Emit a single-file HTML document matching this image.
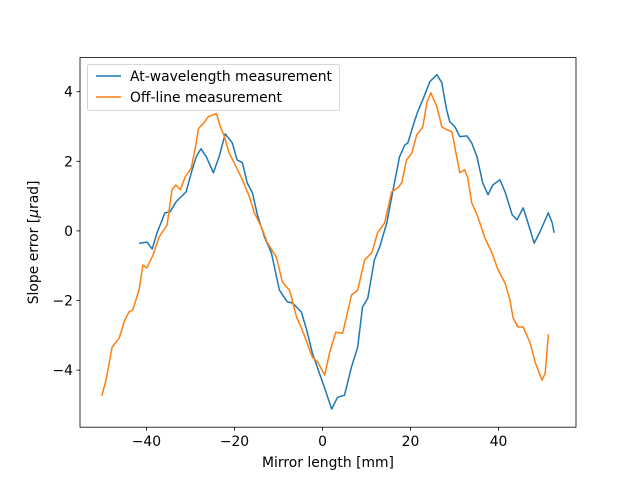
<!DOCTYPE html>
<html><head><meta charset="utf-8">
<style>
html,body{margin:0;padding:0;background:#fff;}
svg{display:block;font-family:"DejaVu Sans","Liberation Sans",sans-serif;}
</style></head>
<body>
<svg id="chart" width="640" height="480" xmlns="http://www.w3.org/2000/svg">
<rect width="640" height="480" fill="#fff"/>
<g id="plot"></g>
</svg>
<script>
const xTicks=[-40,-20,0,20,40];
const yTicks=[-4,-2,0,2,4];
const blueX=[-41.5,-39.9,-38.7,-37.6,-35.8,-34.6,-33.3,-31.0,-29.8,-28.7,-27.6,-26.4,-24.8,-23.5,-22.1,-20.5,-19.4,-18.2,-17.1,-15.9,-14.8,-13.2,-11.6,-9.8,-8.0,-6.8,-4.8,-3.6,-2.3,-0.7,0.5,2.1,3.4,5.0,6.6,8.0,9.1,10.3,11.8,13.0,14.6,15.9,17.5,18.7,19.4,20.5,21.6,22.8,24.4,26.0,27.1,28.2,28.9,30.1,31.2,32.8,33.9,35.1,36.4,37.6,38.7,40.3,41.5,43.1,44.2,45.6,46.7,48.1,49.4,51.3,52.2,52.6];
const blueY=[-0.35,-0.32,-0.52,-0.06,0.52,0.55,0.83,1.12,1.67,2.13,2.36,2.13,1.67,2.13,2.79,2.53,2.04,1.96,1.38,1.09,0.46,-0.17,-0.63,-1.70,-2.04,-2.07,-2.33,-2.85,-3.51,-4.09,-4.52,-5.12,-4.78,-4.72,-3.91,-3.34,-2.19,-1.93,-0.83,-0.46,0.23,1.09,2.13,2.47,2.53,2.99,3.42,3.77,4.29,4.49,4.26,3.48,3.14,2.99,2.71,2.73,2.53,2.13,1.38,1.04,1.32,1.47,1.12,0.46,0.32,0.66,0.23,-0.35,-0.03,0.52,0.23,-0.03];
const orangeX=[-50.1,-49.2,-47.8,-46.2,-45.1,-44.0,-43.1,-41.7,-40.8,-39.9,-38.5,-37.1,-35.3,-34.2,-33.3,-32.3,-31.2,-29.8,-28.7,-28.2,-26.9,-26.0,-24.1,-23.2,-22.3,-21.2,-19.6,-18.2,-16.6,-15.5,-13.9,-12.5,-10.5,-9.1,-7.5,-5.9,-4.6,-2.3,-1.1,0.5,1.6,3.0,4.6,6.6,8.0,9.6,11.2,12.5,14.1,15.7,17.1,18.0,19.1,20.3,21.4,22.8,23.7,24.6,26.0,27.1,28.2,29.4,30.5,31.2,32.3,33.0,33.9,35.3,36.9,38.5,39.9,41.5,42.6,43.3,44.4,45.6,47.2,48.3,49.9,50.6,51.3];
const orangeY=[-4.72,-4.29,-3.34,-3.08,-2.62,-2.33,-2.27,-1.70,-0.98,-1.06,-0.69,-0.17,0.17,1.18,1.32,1.18,1.55,1.81,2.53,2.94,3.11,3.28,3.37,2.99,2.71,2.24,1.84,1.47,0.98,0.52,0.12,-0.35,-0.75,-1.47,-1.70,-2.47,-2.85,-3.63,-3.77,-4.14,-3.51,-2.91,-2.94,-1.84,-1.70,-0.83,-0.63,-0.06,0.23,1.12,1.24,1.38,2.04,2.24,2.76,2.99,3.68,3.97,3.57,2.99,2.91,2.85,2.13,1.67,1.76,1.53,0.81,0.40,-0.20,-0.63,-1.12,-1.50,-1.99,-2.50,-2.76,-2.76,-3.22,-3.77,-4.29,-4.09,-2.99];

const L=80,R=576,T=57.6,B=427.2;
const xMin=-55.1,xMax=57.6,yMin=-5.64,yMax=4.98;
const FS='13.9px';
const sx=v=>L+(v-xMin)/(xMax-xMin)*(R-L);
const sy=v=>B-(v-yMin)/(yMax-yMin)*(B-T);
const NS="http://www.w3.org/2000/svg";
const g=document.getElementById('plot');
function mk(tag,attrs,parent){const e=document.createElementNS(NS,tag);for(const k in attrs)e.setAttribute(k,attrs[k]);(parent||g).appendChild(e);return e;}

function series(xs,ys,color,name){
  const p=mk('polyline',{points:xs.map((x,i)=>sx(x).toFixed(1)+','+sy(ys[i]).toFixed(1)).join(' '),fill:'none',stroke:color,'stroke-width':1.5,'stroke-linejoin':'round','stroke-linecap':'square'});
  
  
}
series(blueX,blueY,'#1f77b4','at-wavelength-line');
series(orangeX,orangeY,'#ff7f0e','off-line-line');

const frame=mk('rect',{x:L,y:T,width:R-L,height:B-T,fill:'none',stroke:'#000','stroke-width':0.8});



xTicks.forEach(v=>{
  const x=sx(v);
  mk('line',{x1:x,x2:x,y1:B,y2:B+3.5,stroke:'#000','stroke-width':0.8});
  const t=mk('text',{x:x,y:B+19,'text-anchor':'middle','font-size':FS,fill:'#000'});
  t.textContent=(v<0?'\u2212'+(-v):v);
  
  
});
yTicks.forEach(v=>{
  const y=sy(v);
  mk('line',{x1:L-3.5,x2:L,y1:y,y2:y,stroke:'#000','stroke-width':0.8});
  const t=mk('text',{x:L-7,y:y+5,'text-anchor':'end','font-size':FS,fill:'#000'});
  t.textContent=(v<0?'\u2212'+(-v):v);
  
  
});

const xl=mk('text',{x:(L+R)/2,y:467,'text-anchor':'middle','font-size':FS,fill:'#000'});
xl.textContent='Mirror length [mm]';



const yl=mk('text',{x:0,y:0,'text-anchor':'middle','font-size':FS,fill:'#000',transform:'translate(38,'+((T+B)/2)+') rotate(-90)'});
yl.innerHTML='Slope error [<tspan font-style="italic">μ</tspan>rad]';



const lg=mk('g',{});


mk('rect',{x:87.5,y:64.5,width:252,height:46,rx:2,fill:'#fff','fill-opacity':0.8,stroke:'#ccc','stroke-width':0.8},lg);
[['At-wavelength measurement','#1f77b4',76],['Off-line measurement','#ff7f0e',97]].forEach(([lab,c,y])=>{
  const e=mk('g',{},lg);
  
  
  mk('line',{x1:96,x2:121,y1:y,y2:y,stroke:c,'stroke-width':1.5},e);
  const t=mk('text',{x:130,y:y+5,'font-size':FS,fill:'#000'},e);
  t.textContent=lab;
});
</script>
</body></html>
